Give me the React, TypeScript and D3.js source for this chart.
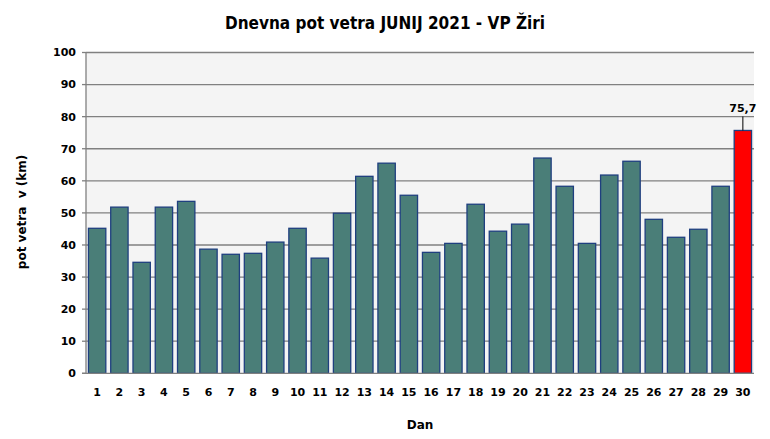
import React from "react";
import * as d3 from "d3";

const days = Array.from({ length: 30 }, (_, i) => String(i + 1));
const values = [45.2, 51.8, 34.6, 51.8, 53.6, 38.7, 37.1, 37.4, 40.9, 45.2, 35.9, 49.9, 61.4, 65.5, 55.5, 37.7, 40.5, 52.7, 44.3, 46.5, 67.1, 58.3, 40.5, 61.8, 66.1, 48.0, 42.4, 44.9, 58.3, 75.7];
const yTicks = [0, 10, 20, 30, 40, 50, 60, 70, 80, 90, 100];
const title = "Dnevna pot vetra JUNIJ 2021 - VP Žiri";
const yTitle = "pot vetra  v (km)";
const xTitle = "Dan";

const W = 770, H = 439;
const L = 86, R = 754, T = 52.5, B = 373.3;
const font = "'DejaVu Sans', Verdana, sans-serif";

export default function App() {
  const x = d3.scaleBand<string>().domain(days).range([L, R]).paddingInner(0.22).paddingOuter(0.11);
  const y = d3.scaleLinear().domain([0, 100]).range([B, T]);
  const maxIdx = values.length - 1;
  return (
    <svg width={W} height={H} style={{ position: "absolute", left: 0, top: 0, background: "#fff" }}>
      <rect x={L} y={T} width={R - L} height={B - T} fill="#f4f4f4" />
      {yTicks.map((t) => (
        <g key={t}>
          {t > 0 && <line x1={L} x2={R} y1={y(t)} y2={y(t)} stroke="#808080" strokeWidth={1.3} />}
          <line x1={L - 4} x2={L} y1={y(t)} y2={y(t)} stroke="#808080" strokeWidth={1.3} />
          <text x={L - 10} y={y(t)} dy="0.35em" textAnchor="end" fontFamily={font} fontWeight="bold" fontSize={11} fill="#000">{t}</text>
        </g>
      ))}
      {values.map((v, i) => (
        <rect key={i} x={x(days[i])!} y={y(v)} width={x.bandwidth()} height={B - y(v)}
          fill={i === maxIdx ? "#ff0000" : "#4a7e78"} stroke="#1f3f7f" strokeWidth={1.3} />
      ))}
      <line x1={L} x2={L} y1={T} y2={B} stroke="#808080" strokeWidth={1.3} />
      <line x1={L - 4} x2={R} y1={B} y2={B} stroke="#808080" strokeWidth={1.3} />
      {days.map((d) => (
        <text key={d} x={x(d)! + x.bandwidth() / 2} y={392} dy="0.35em" textAnchor="middle" fontFamily={font} fontWeight="bold" fontSize={11}>{d}</text>
      ))}
      {(() => {
        const cx = x(days[maxIdx])! + x.bandwidth() / 2;
        return (
          <g>
            <line x1={cx} x2={cx} y1={y(values[maxIdx]) - 14} y2={y(values[maxIdx])} stroke="#000" strokeWidth={1} />
            <text x={cx} y={y(values[maxIdx]) - 18} textAnchor="middle" fontFamily={font} fontWeight="bold" fontSize={11}>{String(values[maxIdx]).replace(".", ",")}</text>
          </g>
        );
      })()}
      <text x={385} y={29} textAnchor="middle" fontFamily="'DejaVu Sans Condensed', 'DejaVu Sans', sans-serif" fontWeight="bold" fontSize={17}>{title}</text>
      <text x={0} y={0} transform={`translate(26,212) rotate(-90)`} textAnchor="middle" fontFamily={font} fontWeight="bold" fontSize={12} style={{ whiteSpace: "pre" }}>{yTitle}</text>
      <text x={420} y={429} textAnchor="middle" fontFamily={font} fontWeight="bold" fontSize={12}>{xTitle}</text>
    </svg>
  );
}
